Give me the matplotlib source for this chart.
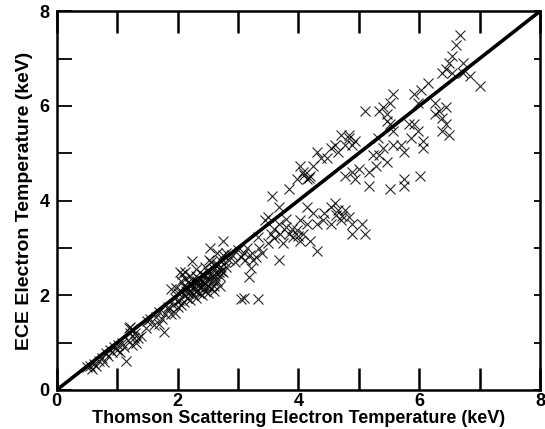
import matplotlib
matplotlib.use('Agg')
import matplotlib.pyplot as plt

# Thomson scattering Te (x) vs ECE Te (y), keV
points = [
    # low end
    (0.50, 0.48), (0.55, 0.50), (0.58, 0.45), (0.62, 0.55), (0.65, 0.50), (0.70, 0.62),
    (0.75, 0.68), (0.78, 0.60), (0.82, 0.78), (0.85, 0.72), (0.88, 0.85), (0.92, 0.80),
    (0.95, 0.90), (1.00, 0.85), (1.02, 0.95), (1.05, 0.80), (1.08, 1.00), (1.12, 0.90),
    (1.15, 0.62), (1.18, 1.05), (1.20, 1.30), (1.22, 1.20), (1.25, 1.28), (1.28, 1.10),
    (1.30, 1.20), (1.32, 1.00), (1.35, 1.10), (1.40, 1.15), (1.25, 0.95), (1.22, 1.32),
    (1.47, 1.30), (1.61, 1.38), (1.78, 1.23), (1.84, 1.70), (1.95, 1.63), (2.01, 1.85),
    (1.50, 1.45), (1.55, 1.50), (1.65, 1.55), (1.70, 1.65), (1.75, 1.50), (1.80, 1.60),
    (1.85, 1.75), (1.90, 1.60), (1.70, 1.40),
    # dense cluster 2-3 keV
    (1.95, 1.95), (2.00, 2.05), (2.02, 1.90), (2.05, 2.10), (2.05, 2.30), (2.08, 2.45),
    (2.10, 2.00), (2.10, 2.20), (2.12, 2.35), (2.15, 1.95), (2.15, 2.15), (2.18, 2.05),
    (2.20, 2.25), (2.20, 2.40), (2.22, 2.10), (2.25, 2.00), (2.25, 2.30), (2.28, 2.20),
    (2.30, 2.10), (2.30, 2.40), (2.32, 2.25), (2.35, 2.05), (2.35, 2.35), (2.38, 2.15),
    (2.40, 2.30), (2.40, 2.45), (2.42, 2.20), (2.45, 2.10), (2.45, 2.40), (2.48, 2.30),
    (2.50, 2.20), (2.50, 2.50), (2.52, 2.35), (2.55, 2.15), (2.55, 2.45), (2.58, 2.30),
    (2.60, 2.55), (2.60, 2.20), (2.62, 2.40), (2.65, 2.65), (2.65, 2.30), (2.68, 2.50),
    (2.70, 2.75), (2.70, 2.40), (2.72, 2.60), (2.75, 2.85), (2.75, 2.50), (2.78, 2.70),
    (2.80, 2.90), (2.80, 2.60), (2.85, 2.75), (2.60, 2.10), (2.50, 2.05), (2.40, 2.00),
    (2.30, 1.95), (2.20, 1.90), (2.10, 1.85), (2.70, 2.20), (2.65, 2.90), (2.55, 2.70),
    (1.92, 1.80), (1.98, 2.15), (2.00, 1.75), (2.05, 1.80), (2.12, 2.50), (2.30, 2.55),
    (2.45, 2.60), (2.52, 2.75), (2.18, 2.28), (2.27, 2.12), (2.36, 2.22), (2.44, 2.27),
    (2.56, 2.38), (2.63, 2.47), (2.72, 2.52), (2.14, 2.08), (2.33, 2.30), (2.47, 2.18),
    (1.90, 2.14), (2.04, 2.50), (2.24, 2.72), (2.53, 3.00), (2.76, 3.15), (2.64, 2.64),
    (3.05, 1.92), (3.33, 1.92), (3.10, 1.95), (3.22, 2.57), (3.19, 2.39), (3.68, 2.75),
    (3.33, 3.22),
    # 3-4 keV along the line
    (2.90, 2.85), (3.00, 2.95), (3.05, 2.80), (3.10, 2.90), (3.15, 3.00), (3.20, 2.85),
    (3.25, 2.75), (3.30, 2.80), (3.35, 3.00), (3.40, 2.90), (3.50, 3.10), (3.55, 3.30),
    (3.60, 3.40), (3.60, 3.20), (3.70, 3.30), (3.75, 3.10), (2.95, 2.70), (3.12, 2.75),
    (3.45, 3.58), (3.50, 3.66), (3.68, 3.87), (3.68, 3.51), (3.79, 3.44), (3.85, 3.29),
    (3.91, 3.22), (4.02, 3.15), (3.97, 3.37), (4.08, 3.29), (4.14, 3.51), (4.02, 3.58),
    (4.20, 3.15), (4.31, 2.93), (4.31, 3.51), (4.43, 3.73), (4.54, 3.87), (4.60, 3.95),
    (4.66, 3.80), (4.77, 3.80), (4.83, 3.66), (4.89, 3.51), (5.06, 3.51), (5.11, 3.29),
    (4.89, 3.29), (4.71, 3.58), (4.54, 3.51), (4.40, 3.58), (4.25, 3.73), (4.14, 3.87),
    (4.62, 3.70), (4.72, 3.68), (3.90, 3.40), (4.00, 3.25), (3.80, 3.60),
    # above the line, 3.5-5 keV
    (3.56, 4.09), (3.85, 4.24), (3.97, 4.45), (4.08, 4.60), (4.14, 4.45), (4.02, 4.74),
    (4.20, 4.52), (4.25, 4.74), (4.31, 5.03), (4.37, 4.89), (4.48, 4.89), (4.54, 5.10),
    (4.60, 5.18), (4.66, 5.03), (4.77, 5.18), (4.83, 5.32), (4.89, 5.18), (4.83, 5.39),
    (4.71, 5.39), (4.94, 5.25), (5.11, 5.90), (4.10, 4.55), (4.18, 4.48),
    # below the line, 4.5-6 keV
    (4.77, 4.52), (4.89, 4.60), (5.00, 4.67), (4.94, 4.45), (5.17, 4.31), (5.17, 4.60),
    (5.29, 4.74), (5.34, 4.96), (5.23, 4.96), (5.40, 5.10), (5.46, 4.82), (5.52, 4.24),
    (5.75, 4.31), (5.75, 4.45), (6.01, 4.52), (5.57, 5.18), (5.69, 5.18), (5.75, 5.03),
    (5.86, 5.32), (5.98, 5.47), (6.06, 5.25), (6.06, 5.10), (5.83, 5.61), (5.92, 5.61),
    # above the line, 5-5.6 keV
    (5.34, 5.90), (5.40, 5.97), (5.46, 5.83), (5.52, 6.05), (5.46, 5.68), (5.52, 5.61),
    (5.57, 6.26), (5.32, 5.32), (5.57, 5.47),
    # upper end
    (5.92, 6.26), (6.03, 6.34), (6.15, 6.48), (5.98, 6.05), (6.26, 6.05), (6.32, 5.90),
    (6.38, 5.75), (6.44, 5.61), (6.49, 5.39), (6.38, 5.47), (6.26, 5.83), (6.44, 5.97),
    (6.44, 6.77), (6.49, 6.91), (6.55, 7.06), (6.61, 7.28), (6.67, 7.50), (6.72, 6.91),
    (6.55, 6.70), (6.84, 6.63), (7.01, 6.41), (6.72, 6.70), (6.38, 6.70),
]
ts_te = [p[0] for p in points]
ece_te = [p[1] for p in points]

line_x = [0, 8]
line_y = [0, 8]

tick_vals = [0, 1, 2, 3, 4, 5, 6, 7, 8]
tick_labels = ['0', '', '2', '', '4', '', '6', '', '8']

plt.rcParams['font.family'] = ['Liberation Sans', 'DejaVu Sans']

fig = plt.figure(figsize=(5.45, 4.29), dpi=100)
ax = fig.add_axes([0.104, 0.091, 0.887, 0.883])

ax.plot(ts_te, ece_te, linestyle='none', marker='x', ms=6.5, mew=0.8, color='black', alpha=0.85)
ax.plot(line_x, line_y, color='black', lw=2.6)

ax.set_xlim(0, 8)
ax.set_ylim(0, 8)
ax.set_xticks(tick_vals)
ax.set_xticklabels(tick_labels, fontweight='bold')
ax.set_yticks(tick_vals)
ax.set_yticklabels(tick_labels, fontweight='bold')

ax.tick_params(axis='x', direction='in', length=16, width=1.8, top=True, labelsize=13, pad=2)
ax.tick_params(axis='y', direction='in', length=11, width=1.3, labelsize=13, pad=5)
ax.tick_params(axis='y', which='major', right=True)
for t in ax.yaxis.get_ticklines()[1::2]:
    t.set_markersize(4)
    t.set_color('0.6')
for s in ax.spines.values():
    s.set_linewidth(1.8)

ax.set_xlabel('Thomson Scattering Electron Temperature (keV)', fontsize=13,
              fontweight='bold', labelpad=0)
ax.set_ylabel('ECE Electron Temperature (keV)', fontsize=14, fontweight='bold', labelpad=5)

fig.savefig('out.png', dpi=100)
